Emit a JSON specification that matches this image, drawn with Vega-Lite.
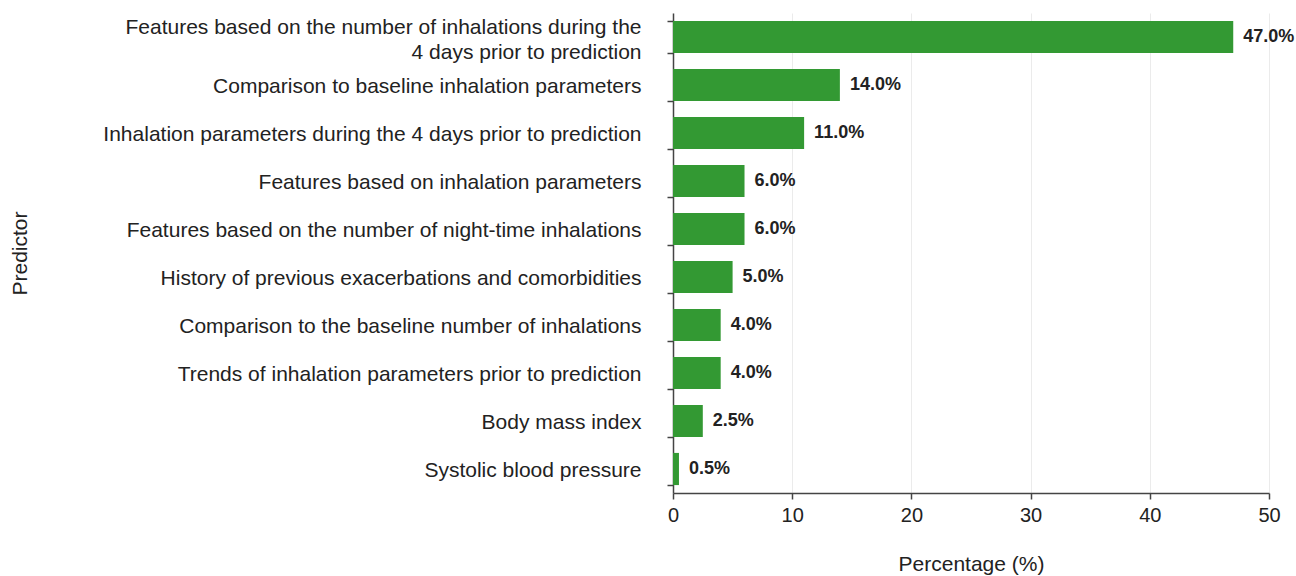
{
  "$schema": "https://vega.github.io/schema/vega-lite/v6.json",
  "width": 596,
  "height": 480,
  "autosize": {"type": "none"},
  "padding": {"left": 673, "top": 13, "right": 27, "bottom": 83},
  "background": "white",
  "config": {
    "view": {"stroke": null},
    "font": "Liberation Sans"
  },
  "data": {
    "values": [
      {"predictor": "Features based on the number of inhalations during the|4 days prior to prediction", "pct": 47.0, "label": "47.0%"},
      {"predictor": "Comparison to baseline inhalation parameters", "pct": 14.0, "label": "14.0%"},
      {"predictor": "Inhalation parameters during the 4 days prior to prediction", "pct": 11.0, "label": "11.0%"},
      {"predictor": "Features based on inhalation parameters", "pct": 6.0, "label": "6.0%"},
      {"predictor": "Features based on the number of night-time inhalations", "pct": 6.0, "label": "6.0%"},
      {"predictor": "History of previous exacerbations and comorbidities", "pct": 5.0, "label": "5.0%"},
      {"predictor": "Comparison to the baseline number of inhalations", "pct": 4.0, "label": "4.0%"},
      {"predictor": "Trends of inhalation parameters prior to prediction", "pct": 4.0, "label": "4.0%"},
      {"predictor": "Body mass index", "pct": 2.5, "label": "2.5%"},
      {"predictor": "Systolic blood pressure", "pct": 0.5, "label": "0.5%"}
    ]
  },
  "encoding": {
    "y": {
      "field": "predictor",
      "type": "nominal",
      "sort": null,
      "scale": {"paddingInner": 0.33, "paddingOuter": 0.165},
      "axis": {
        "title": "Predictor",
        "titleFont": "Liberation Sans",
        "titleFontSize": 21,
        "titleFontWeight": "normal",
        "titleColor": "#222222",
        "titleX": -643,
        "titleY": 240,
        "titleAngle": -90,
        "labelExpr": "split(datum.label, '|')",
        "labelFont": "Liberation Sans",
        "labelFontSize": 21,
        "labelColor": "#222222",
        "labelLineHeight": 25,
        "labelLimit": 700,
        "labelPadding": 26,
        "labelOffset": {"condition": {"test": "indexof(datum.label, '|') >= 0", "value": -10}, "value": 1},
        "tickBand": "extent",
        "tickSize": 6,
        "tickColor": "#444444",
        "tickWidth": 1.5,
        "domainColor": "#444444",
        "domainWidth": 1.5,
        "grid": false
      }
    },
    "x": {
      "field": "pct",
      "type": "quantitative",
      "scale": {"domain": [0, 50], "nice": false},
      "axis": {
        "title": "Percentage (%)",
        "titleFont": "Liberation Sans",
        "titleFontSize": 21,
        "titleFontWeight": "normal",
        "titleColor": "#222222",
        "titlePadding": 28,
        "values": [0, 10, 20, 30, 40, 50],
        "labelFlush": false,
        "labelFont": "Liberation Sans",
        "labelFontSize": 20,
        "labelColor": "#222222",
        "labelPadding": 6,
        "tickSize": 6,
        "tickColor": "#444444",
        "tickWidth": 1.5,
        "domainColor": "#444444",
        "domainWidth": 1.5,
        "grid": true,
        "gridColor": "#ebebeb",
        "gridWidth": 1
      }
    }
  },
  "layer": [
    {"mark": {"type": "bar", "color": "#339933"}},
    {
      "mark": {"type": "text", "align": "left", "baseline": "middle", "dx": 10, "font": "Liberation Sans", "fontSize": 18, "fontWeight": "bold", "color": "#222222"},
      "encoding": {"text": {"field": "label"}}
    }
  ]
}
